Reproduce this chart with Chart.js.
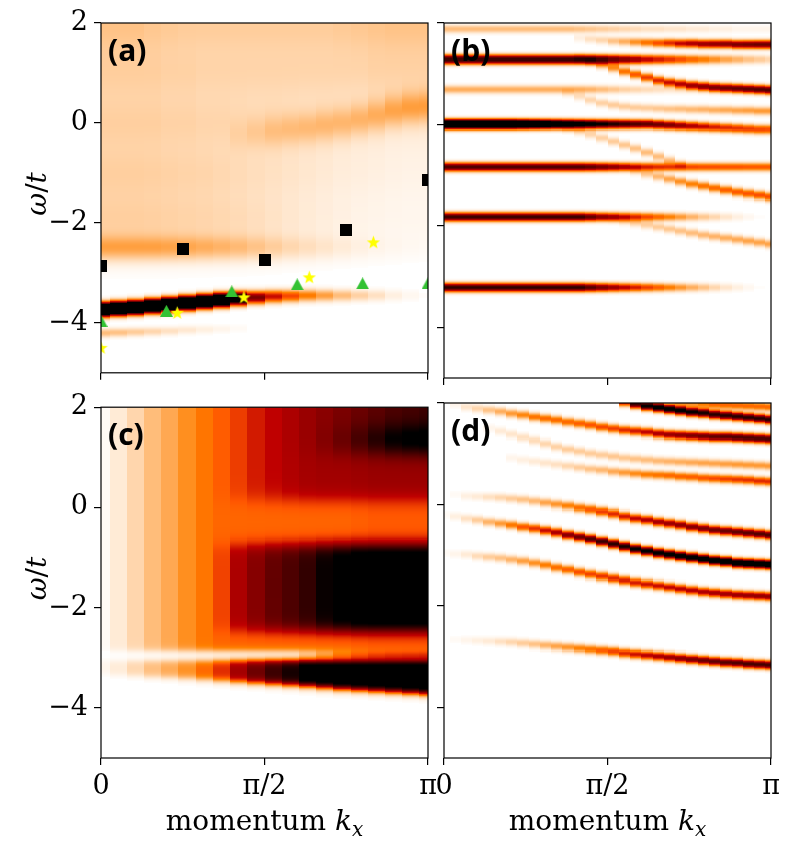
<!DOCTYPE html>
<html>
<head>
<meta charset="utf-8">
<script src="https://cdn.jsdelivr.net/npm/chart.js@4.4.0/dist/chart.umd.min.js"></script>
<style>
  body { margin: 0; background: #fff; width: 790px; height: 851px; position: relative; overflow: hidden; }
  canvas { position: absolute; }
</style>
</head>
<body>
<canvas id="panel-a"></canvas>
<canvas id="panel-b"></canvas>
<canvas id="panel-c"></canvas>
<canvas id="panel-d"></canvas>
<script>
// ---- axes ----
const xTickVals = [0, 0.5, 1];              // momentum in units of pi
const xTickLabels = ['0', 'π/2', 'π'];
const yTickVals = [-4, -2, 0, 2];
const yTickLabels = ['−4', '−2', '0', '2'];

// momentum columns (units of pi)
const kCoarse = [0, 0.0526, 0.1053, 0.1579, 0.2105, 0.2632, 0.3158, 0.3684, 0.4211, 0.4737,
  0.5263, 0.5789, 0.6316, 0.6842, 0.7368, 0.7895, 0.8421, 0.8947, 0.9474, 1];
const kFine = [0, 0.0345, 0.069, 0.1034, 0.1379, 0.1724, 0.2069, 0.2414, 0.2759, 0.3103,
  0.3448, 0.3793, 0.4138, 0.4483, 0.4828, 0.5172, 0.5517, 0.5862, 0.6207, 0.6552,
  0.6897, 0.7241, 0.7586, 0.7931, 0.8276, 0.8621, 0.8966, 0.931, 0.9655, 1];

// ---- panel (a) ----
const aMainW = [-3.73, -3.71, -3.69, -3.66, -3.63, -3.6, -3.57, -3.54, -3.51, -3.49, -3.47, -3.46, -3.45, -3.45, -3.45, -3.45, -3.45, -3.45, -3.45, -3.45];
const aMainAmp = [2.2, 2.2, 2.2, 2.2, 2.2, 2.2, 2.1, 2.0, 1.4, 0.68, 0.48, 0.36, 0.26, 0.19, 0.13, 0.09, 0.06, 0.03, 0.015, 0.005];
const aLowW = [-4.2, -4.19, -4.18, -4.17, -4.16, -4.14, -4.13, -4.12, -4.11, null, null, null, null, null, null, null, null, null, null, null];
const aLowAmp = [0.13, 0.12, 0.1, 0.08, 0.06, 0.045, 0.03, 0.02, 0.01, null, null, null, null, null, null, null, null, null, null, null];
const aEdgeW = -2.5;
const aEdgeAmp = [0.14, 0.14, 0.14, 0.14, 0.135, 0.13, 0.12, 0.11, 0.1, 0.085, 0.07, 0.055, 0.045, 0.035, 0.025, 0.018, 0.012, 0.008, 0.005, 0.003];
const aBgCenters = [2, 1, 0, -1, -2];
const aBg2Amp = [0.11, 0.11, 0.11, 0.1, 0.095, 0.09, 0.09, 0.09, 0.09, 0.09, 0.09, 0.09, 0.09, 0.09, 0.095, 0.1, 0.105, 0.11, 0.11, 0.11];
const aBg1Amp = [0.08, 0.08, 0.08, 0.08, 0.075, 0.075, 0.07, 0.07, 0.07, 0.07, 0.07, 0.07, 0.07, 0.07, 0.07, 0.07, 0.075, 0.075, 0.075, 0.075];
const aBg0Amp = [0.08, 0.08, 0.08, 0.08, 0.075, 0.075, 0.07, 0.07, 0.065, 0.06, 0.06, 0.055, 0.05, 0.05, 0.045, 0.04, 0.04, 0.035, 0.035, 0.035];
const aBgM1Amp = [0.08, 0.08, 0.08, 0.078, 0.075, 0.072, 0.07, 0.065, 0.06, 0.055, 0.05, 0.045, 0.04, 0.035, 0.03, 0.028, 0.025, 0.022, 0.02, 0.02];
const aBgM2Amp = [0.085, 0.085, 0.085, 0.083, 0.08, 0.077, 0.074, 0.07, 0.065, 0.058, 0.05, 0.042, 0.035, 0.03, 0.025, 0.02, 0.018, 0.016, 0.015, 0.015];
const aRightW = [null, null, null, null, null, null, null, null, -0.25, -0.2, -0.17, -0.13, -0.1, -0.05, 0, 0.07, 0.15, 0.24, 0.3, 0.32];
const aRightAmp = [null, null, null, null, null, null, null, null, 0.02, 0.04, 0.06, 0.07, 0.08, 0.085, 0.09, 0.1, 0.11, 0.13, 0.14, 0.14];

// markers in (a)
const squaresK = [0, 0.25, 0.5, 0.75, 1];
const squaresW = [-2.86, -2.52, -2.74, -2.15, -1.15];
const trianglesK = [0, 0.2, 0.4, 0.6, 0.8, 1];
const trianglesW = [-3.96, -3.76, -3.37, -3.23, -3.21, -3.21];
const starsK = [0, 0.233, 0.437, 0.637, 0.833];
const starsW = [-4.49, -3.79, -3.48, -3.08, -2.38];

// ---- panel (b) ----
const bTopW = 1.88;
const bTopAmp = [0.13, 0.13, 0.13, 0.13, 0.13, 0.13, 0.13, 0.13, 0.13, 0.13, 0.13, 0.13, 0.12, 0.11, 0.1, 0.09, 0.08, 0.07, 0.06, 0.06, 0.05, 0.05, 0.04, 0.04, 0.03, 0.03, 0.02, 0.02, 0.02, 0.02];
const bUpperW = 1.28;
const bUpperAmp = [0.85, 0.85, 0.85, 0.85, 0.85, 0.85, 0.85, 0.85, 0.85, 0.85, 0.85, 0.85, 0.85, 0.85, 0.8, 0.72, 0.65, 0.58, 0.5, 0.45, 0.4, 0.35, 0.3, 0.26, 0.22, 0.18, 0.15, 0.12, 0.1, 0.08];
const bFaintW = 0.69;
const bFaintAmp = [0.16, 0.16, 0.16, 0.16, 0.16, 0.16, 0.16, 0.16, 0.16, 0.16, 0.16, 0.16, 0.16, 0.15, 0.13, 0.11, 0.09, 0.08, 0.07, 0.06, 0.05, 0.05, 0.04, 0.04, 0.04, 0.04, 0.04, 0.04, 0.04, 0.04];
const bZeroW = [0, 0, 0, 0, 0, 0, 0, 0, 0, 0, 0, 0, 0, 0, 0, 0, 0, 0, 0, -0.01, -0.02, -0.03, -0.04, -0.05, -0.06, -0.07, -0.08, -0.09, -0.1, -0.1];
const bZeroAmp = [1.8, 1.8, 1.8, 1.8, 1.8, 1.8, 1.8, 1.7, 1.6, 1.5, 1.4, 1.3, 1.2, 1.1, 1.0, 0.92, 0.86, 0.8, 0.76, 0.72, 0.68, 0.62, 0.55, 0.5, 0.45, 0.42, 0.4, 0.38, 0.36, 0.35];
const bMidW = -0.84;
const bMidAmp = [0.8, 0.8, 0.8, 0.8, 0.8, 0.8, 0.8, 0.8, 0.8, 0.8, 0.8, 0.8, 0.8, 0.76, 0.7, 0.64, 0.57, 0.5, 0.45, 0.42, 0.4, 0.38, 0.36, 0.35, 0.35, 0.34, 0.34, 0.33, 0.33, 0.33];
const bLowW = -1.82;
const bLowAmp = [0.85, 0.85, 0.85, 0.85, 0.85, 0.85, 0.85, 0.85, 0.85, 0.85, 0.85, 0.85, 0.85, 0.75, 0.65, 0.57, 0.5, 0.43, 0.36, 0.3, 0.25, 0.2, 0.15, 0.11, 0.08, 0.05, 0.03, 0.015, 0.005, 0];
const bBottomW = -3.21;
const bBottomAmp = [0.88, 0.88, 0.88, 0.88, 0.88, 0.88, 0.88, 0.88, 0.88, 0.88, 0.88, 0.88, 0.88, 0.78, 0.68, 0.6, 0.52, 0.45, 0.38, 0.32, 0.26, 0.21, 0.16, 0.12, 0.08, 0.05, 0.03, 0.015, 0.005, 0];
const bD1W = [null, null, null, null, null, null, null, null, null, null, null, null, 1.7, 1.68, 1.66, 1.64, 1.63, 1.62, 1.61, 1.6, 1.6, 1.59, 1.59, 1.58, 1.58, 1.58, 1.57, 1.57, 1.57, 1.57];
const bD1Amp = [null, null, null, null, null, null, null, null, null, null, null, null, 0.03, 0.06, 0.08, 0.12, 0.16, 0.22, 0.28, 0.35, 0.42, 0.5, 0.55, 0.6, 0.62, 0.65, 0.68, 0.7, 0.72, 0.72];
const bD2W = [null, null, null, null, null, null, null, null, null, null, null, null, 1.3, 1.24, 1.18, 1.12, 1.05, 0.99, 0.93, 0.87, 0.83, 0.8, 0.77, 0.75, 0.73, 0.72, 0.71, 0.7, 0.69, 0.68];
const bD2Amp = [null, null, null, null, null, null, null, null, null, null, null, null, 0.05, 0.1, 0.15, 0.22, 0.28, 0.33, 0.38, 0.43, 0.48, 0.53, 0.58, 0.62, 0.65, 0.68, 0.7, 0.72, 0.74, 0.75];
const bD3W = [null, null, null, null, null, null, null, null, null, null, null, 0.62, 0.55, 0.48, 0.42, 0.38, 0.35, 0.33, 0.32, 0.31, 0.3, 0.3, 0.29, 0.29, 0.28, 0.28, 0.27, 0.27, 0.26, 0.26];
const bD3Amp = [null, null, null, null, null, null, null, null, null, null, null, 0.04, 0.06, 0.08, 0.09, 0.1, 0.1, 0.1, 0.1, 0.11, 0.12, 0.13, 0.14, 0.15, 0.16, 0.17, 0.18, 0.19, 0.2, 0.2];
const bD4aW = [null, null, null, null, null, null, null, null, null, null, null, -0.08, -0.13, -0.19, -0.26, -0.33, -0.4, -0.47, -0.55, -0.63, -0.71, -0.79, null, null, null, null, null, null, null, null];
const bD4aAmp = [null, null, null, null, null, null, null, null, null, null, null, 0.05, 0.07, 0.08, 0.09, 0.1, 0.11, 0.12, 0.13, 0.13, 0.12, 0.1, null, null, null, null, null, null, null, null];
const bD4bW = [null, null, null, null, null, null, null, null, null, null, null, null, null, null, null, null, null, -0.92, -0.98, -1.03, -1.08, -1.13, -1.18, -1.22, -1.26, -1.3, -1.34, -1.37, -1.4, -1.43];
const bD4bAmp = [null, null, null, null, null, null, null, null, null, null, null, null, null, null, null, null, null, 0.06, 0.1, 0.14, 0.18, 0.22, 0.25, 0.28, 0.3, 0.32, 0.33, 0.34, 0.35, 0.35];
const bD5W = [null, null, null, null, null, null, null, null, null, null, null, null, null, null, null, -1.86, -1.9, -1.94, -1.98, -2.02, -2.06, -2.1, -2.14, -2.18, -2.21, -2.24, -2.27, -2.3, -2.33, -2.36];
const bD5Amp = [null, null, null, null, null, null, null, null, null, null, null, null, null, null, null, 0.04, 0.06, 0.08, 0.09, 0.1, 0.11, 0.12, 0.13, 0.14, 0.15, 0.16, 0.17, 0.18, 0.18, 0.18];

// ---- panel (c) ----
const cBaseLevel = [0.01, 0.04, 0.08, 0.13, 0.17, 0.22, 0.27, 0.3, 0.3, 0.3, 0.3, 0.3, 0.3, 0.3, 0.3, 0.31, 0.32, 0.32, 0.32, 0.32];
const cTopExtra = [0, 0, 0, 0, 0, 0, 0, 0.02, 0.08, 0.15, 0.2, 0.25, 0.3, 0.34, 0.38, 0.41, 0.44, 0.48, 0.5, 0.52];
const cMidExtra = [0, 0, 0, 0, 0, 0, 0, 0.02, 0.08, 0.15, 0.2, 0.24, 0.27, 0.28, 0.28, 0.28, 0.28, 0.28, 0.28, 0.28];
const cPeakW = 1.35;
const cPeakAmp = [null, null, null, null, null, null, null, null, null, null, null, null, null, 0.02, 0.05, 0.1, 0.15, 0.2, 0.22, 0.22];
const cLowExtra = [0, 0, 0, 0, 0, 0, 0, 0.07, 0.25, 0.35, 0.44, 0.5, 0.57, 0.68, 0.75, 0.8, 0.8, 0.8, 0.8, 0.8];
const cGapW = -2.95;
const cGapAmp = [null, null, null, null, null, null, null, null, null, null, null, null, 0.05, 0.12, 0.2, 0.26, 0.3, 0.32, 0.33, 0.34];
const cLowerLevel = [0.02, 0.04, 0.08, 0.13, 0.17, 0.22, 0.3, 0.42, 0.58, 0.72, 0.85, 0.95, 1.1, 1.1, 1.1, 1.1, 1.1, 1.1, 1.1, 1.1];
const cLowerBottom = [-3.32, -3.34, -3.35, -3.37, -3.38, -3.4, -3.42, -3.44, -3.46, -3.48, -3.5, -3.52, -3.54, -3.57, -3.6, -3.62, -3.64, -3.66, -3.68, -3.7];

// ---- panel (d) ----
const d1W = [null, null, null, null, null, null, null, null, null, null, null, null, null, null, null, null, 2.02, 1.98, 1.94, 1.91, 1.88, 1.85, 1.82, 1.8, 1.77, 1.75, 1.73, 1.71, 1.69, 1.67];
const d1Amp = [null, null, null, null, null, null, null, null, null, null, null, null, null, null, null, null, 0.5, 0.85, 1.0, 1.1, 1.1, 1.05, 1.0, 0.95, 0.9, 0.9, 0.9, 0.9, 0.9, 0.9];
const d1bW = [null, null, null, null, null, null, null, null, null, null, null, null, null, null, null, null, null, null, null, null, null, 2.0, 1.99, 1.98, 1.97, 1.96, 1.95, 1.94, 1.93, 1.92];
const d1bAmp = [null, null, null, null, null, null, null, null, null, null, null, null, null, null, null, null, null, null, null, null, null, 0.15, 0.2, 0.25, 0.3, 0.3, 0.3, 0.3, 0.3, 0.3];
const d2W = [null, 1.97, 1.92, 1.89, 1.86, 1.83, 1.79, 1.76, 1.72, 1.69, 1.66, 1.62, 1.59, 1.56, 1.52, 1.49, 1.46, 1.44, 1.42, 1.39, 1.37, 1.36, 1.35, 1.34, 1.33, 1.33, 1.32, 1.31, 1.3, 1.29];
const d2Amp = [null, 0.02, 0.05, 0.08, 0.12, 0.16, 0.2, 0.24, 0.28, 0.3, 0.3, 0.3, 0.32, 0.34, 0.36, 0.38, 0.42, 0.46, 0.5, 0.55, 0.6, 0.64, 0.68, 0.72, 0.75, 0.78, 0.8, 0.8, 0.8, 0.8];
const d3W = [null, null, null, null, 1.5, 1.44, 1.38, 1.32, 1.26, 1.2, 1.14, 1.09, 1.05, 1.01, 0.98, 0.95, 0.92, 0.9, 0.88, 0.86, 0.85, 0.84, 0.83, 0.82, 0.81, 0.8, 0.79, 0.78, 0.77, 0.76];
const d3Amp = [null, null, null, null, 0.02, 0.04, 0.05, 0.06, 0.07, 0.08, 0.09, 0.1, 0.1, 0.1, 0.1, 0.11, 0.11, 0.12, 0.13, 0.14, 0.15, 0.16, 0.17, 0.18, 0.18, 0.19, 0.2, 0.2, 0.2, 0.2];
const d4W = [null, null, null, null, null, null, 0.92, 0.88, 0.85, 0.82, 0.79, 0.76, 0.73, 0.7, 0.68, 0.65, 0.63, 0.61, 0.59, 0.58, 0.57, 0.55, 0.54, 0.52, 0.51, 0.5, 0.49, 0.48, 0.46, 0.45];
const d4Amp = [null, null, null, null, null, null, 0.02, 0.03, 0.04, 0.05, 0.06, 0.08, 0.1, 0.12, 0.14, 0.17, 0.2, 0.23, 0.26, 0.28, 0.3, 0.31, 0.32, 0.34, 0.36, 0.38, 0.4, 0.41, 0.42, 0.42];
const d5W = [0.2, 0.19, 0.16, 0.15, 0.14, 0.13, 0.11, 0.09, 0.06, 0.03, 0.0, -0.03, -0.07, -0.1, -0.14, -0.18, -0.23, -0.27, -0.3, -0.34, -0.37, -0.4, -0.44, -0.47, -0.5, -0.52, -0.54, -0.56, -0.58, -0.6];
const d5Amp = [0, 0.01, 0.03, 0.04, 0.06, 0.08, 0.1, 0.12, 0.14, 0.18, 0.21, 0.25, 0.29, 0.33, 0.38, 0.42, 0.46, 0.5, 0.54, 0.57, 0.6, 0.63, 0.66, 0.68, 0.71, 0.73, 0.75, 0.77, 0.79, 0.8];
const d6W = [-0.2, -0.23, -0.27, -0.3, -0.34, -0.37, -0.4, -0.44, -0.47, -0.51, -0.55, -0.6, -0.64, -0.68, -0.73, -0.78, -0.83, -0.88, -0.92, -0.96, -0.99, -1.02, -1.05, -1.08, -1.11, -1.13, -1.16, -1.17, -1.18, -1.19];
const d6Amp = [0.01, 0.03, 0.06, 0.1, 0.15, 0.2, 0.27, 0.34, 0.4, 0.48, 0.56, 0.65, 0.72, 0.8, 0.85, 0.9, 0.95, 1.0, 1.03, 1.06, 1.1, 1.13, 1.16, 1.2, 1.23, 1.26, 1.3, 1.3, 1.3, 1.3];
const d7W = [-0.96, -0.98, -0.99, -1.02, -1.04, -1.06, -1.09, -1.12, -1.16, -1.2, -1.25, -1.29, -1.34, -1.38, -1.42, -1.46, -1.5, -1.54, -1.57, -1.6, -1.63, -1.66, -1.69, -1.72, -1.74, -1.76, -1.78, -1.79, -1.8, -1.81];
const d7Amp = [0.01, 0.02, 0.04, 0.07, 0.1, 0.12, 0.15, 0.19, 0.22, 0.26, 0.29, 0.32, 0.35, 0.37, 0.4, 0.42, 0.44, 0.45, 0.47, 0.48, 0.5, 0.52, 0.53, 0.55, 0.57, 0.58, 0.6, 0.61, 0.62, 0.62];
const d8W = [-2.66, -2.67, -2.68, -2.69, -2.7, -2.71, -2.72, -2.74, -2.76, -2.78, -2.8, -2.82, -2.84, -2.86, -2.88, -2.9, -2.93, -2.95, -2.97, -2.99, -3.01, -3.03, -3.05, -3.07, -3.09, -3.11, -3.12, -3.14, -3.15, -3.16];
const d8Amp = [0, 0.01, 0.02, 0.03, 0.04, 0.06, 0.08, 0.1, 0.12, 0.15, 0.18, 0.21, 0.25, 0.28, 0.32, 0.37, 0.42, 0.47, 0.52, 0.56, 0.6, 0.64, 0.68, 0.72, 0.75, 0.78, 0.8, 0.82, 0.82, 0.82];

// ---- band components ----
const line = (center, amp, width) => ({ kind: 'line', center, amp, width });
const box = (lo, hi, level, soft) => ({ kind: 'box', lo, hi, level, soft });
const NARROW = 0.055;

const partsA = [
  line(aBgCenters[0], aBg2Amp, 0.45), line(aBgCenters[1], aBg1Amp, 0.45), line(aBgCenters[2], aBg0Amp, 0.45),
  line(aBgCenters[3], aBgM1Amp, 0.45), line(aBgCenters[4], aBgM2Amp, 0.45),
  line(aEdgeW, aEdgeAmp, 0.17), line(aRightW, aRightAmp, 0.22),
  line(aMainW, aMainAmp, 0.08), line(aLowW, aLowAmp, 0.06)
];
const partsB = [
  line(bTopW, bTopAmp, NARROW), line(bUpperW, bUpperAmp, NARROW), line(bFaintW, bFaintAmp, NARROW),
  line(bZeroW, bZeroAmp, NARROW), line(bMidW, bMidAmp, NARROW), line(bLowW, bLowAmp, NARROW),
  line(bBottomW, bBottomAmp, NARROW), line(bD1W, bD1Amp, NARROW), line(bD2W, bD2Amp, NARROW),
  line(bD3W, bD3Amp, NARROW), line(bD4aW, bD4aAmp, NARROW), line(bD4bW, bD4bAmp, NARROW), line(bD5W, bD5Amp, NARROW)
];
const partsC = [
  box(-2.85, 2.6, cBaseLevel, 0.04), box(1.05, 2.6, cTopExtra, 0.1), box(0.15, 1.05, cMidExtra, 0.1),
  line(cPeakW, cPeakAmp, 0.22), box(-2.45, -0.75, cLowExtra, 0.08), line(cGapW, cGapAmp, 0.08),
  box(cLowerBottom, -3.06, cLowerLevel, 0.04)
];
const partsD = [
  line(d1W, d1Amp, NARROW), line(d1bW, d1bAmp, NARROW), line(d2W, d2Amp, NARROW), line(d3W, d3Amp, NARROW),
  line(d4W, d4Amp, NARROW), line(d5W, d5Amp, NARROW), line(d6W, d6Amp, NARROW), line(d7W, d7Amp, NARROW),
  line(d8W, d8Amp, NARROW)
];

// gist_heat reversed
function heatColor(v) {
  v = Math.max(0, Math.min(1, v));
  const x = 1 - v;
  const r = Math.min(1, 1.5 * x), g = Math.max(0, 2 * x - 1), b = Math.max(0, Math.min(1, 4 * x - 3));
  return `rgb(${Math.round(r * 255)},${Math.round(g * 255)},${Math.round(b * 255)})`;
}

const pick = (a, i) => Array.isArray(a) ? a[i] : a;

function partValue(p, i, w) {
  if (p.kind === 'line') {
    const mu = pick(p.center, i), a = pick(p.amp, i);
    if (mu == null || a == null) return 0;
    const d = (w - mu) / p.width;
    return a * Math.exp(-0.5 * d * d);
  }
  const lvl = pick(p.level, i);
  if (!lvl) return 0;
  const lo = pick(p.lo, i), hi = pick(p.hi, i);
  return lvl / (1 + Math.exp(-(w - lo) / p.soft)) / (1 + Math.exp(-(hi - w) / p.soft));
}

const ROWS = 350; // 0.02 in omega

function heatmap(ks, parts) {
  return {
    id: 'heatmap',
    beforeDatasetsDraw(chart) {
      const { ctx, chartArea: area, scales: { x, y } } = chart;
      const wTop = y.max, dw = (y.max - y.min) / ROWS;
      ctx.save();
      ctx.beginPath();
      ctx.rect(area.left, area.top, area.right - area.left, area.bottom - area.top);
      ctx.clip();
      for (let i = 0; i < ks.length; i++) {
        const kl = i === 0 ? ks[0] - (ks[1] - ks[0]) / 2 : (ks[i - 1] + ks[i]) / 2;
        const kr = i === ks.length - 1 ? ks[i] + (ks[i] - ks[i - 1]) / 2 : (ks[i] + ks[i + 1]) / 2;
        const x0 = Math.round(x.getPixelForValue(kl)), x1 = Math.round(x.getPixelForValue(kr));
        for (let r = 0; r < ROWS; r++) {
          const w = wTop - (r + 0.5) * dw;
          let v = 0;
          for (const p of parts) v += partValue(p, i, w);
          if (v < 0.004) continue;
          const y0 = Math.round(y.getPixelForValue(wTop - r * dw));
          const y1 = Math.round(y.getPixelForValue(wTop - (r + 1) * dw));
          ctx.fillStyle = heatColor(v);
          ctx.fillRect(x0, y0, x1 - x0, y1 - y0);
        }
      }
      ctx.restore();
    }
  };
}

const SERIF = '"DejaVu Serif", "Liberation Serif", serif';

function decorations(label, xTitle, yTitle) {
  return {
    id: 'decorations',
    afterDraw(chart) {
      const { ctx, chartArea: a } = chart;
      ctx.save();
      ctx.strokeStyle = '#000';
      ctx.lineWidth = 1.2;
      ctx.strokeRect(a.left, a.top, a.right - a.left, a.bottom - a.top);

      ctx.fillStyle = '#000';
      ctx.font = 'bold 30px "Open Sans", sans-serif';
      ctx.textBaseline = 'alphabetic';
      ctx.textAlign = 'left';
      ctx.fillText(label, a.left + 7, a.top + 38);

      if (xTitle) {
        const parts = [
          { t: 'momentum ', f: `28px ${SERIF}`, dy: 0 },
          { t: 'k', f: `italic 28px ${SERIF}`, dy: 0 },
          { t: 'x', f: `italic 20px ${SERIF}`, dy: 6 }
        ];
        let total = 0;
        for (const p of parts) { ctx.font = p.f; total += ctx.measureText(p.t).width; }
        let cx = (a.left + a.right) / 2 - total / 2;
        const base = a.bottom + 72;
        for (const p of parts) {
          ctx.font = p.f;
          ctx.fillText(p.t, cx, base + p.dy);
          cx += ctx.measureText(p.t).width;
        }
      }
      if (yTitle) {
        const parts = [
          { t: 'ω', f: `italic 28px ${SERIF}` },
          { t: '/', f: `28px ${SERIF}` },
          { t: 't', f: `italic 28px ${SERIF}` }
        ];
        let total = 0;
        for (const p of parts) { ctx.font = p.f; total += ctx.measureText(p.t).width; }
        ctx.translate(46, (a.top + a.bottom) / 2 - 4);
        ctx.rotate(-Math.PI / 2);
        let cx = -total / 2;
        for (const p of parts) {
          ctx.font = p.f;
          ctx.fillText(p.t, cx, 0);
          cx += ctx.measureText(p.t).width;
        }
      }
      ctx.restore();
    }
  };
}

function markerCanvas(w, h, draw) {
  const c = document.createElement('canvas');
  c.width = w; c.height = h;
  draw(c.getContext('2d'), w, h);
  return c;
}
const squareMark = markerCanvas(12, 12, (g, w, h) => { g.fillStyle = '#000'; g.fillRect(0, 0, w, h); });
const triangleMark = markerCanvas(13, 12, (g, w, h) => {
  g.fillStyle = '#33c233';
  g.beginPath(); g.moveTo(w / 2, 0); g.lineTo(w, h); g.lineTo(0, h); g.closePath(); g.fill();
});
const starMark = markerCanvas(15, 15, (g, w, h) => {
  g.fillStyle = '#ffff00';
  g.beginPath();
  for (let j = 0; j < 10; j++) {
    const r = j % 2 === 0 ? 7 : 2.9;
    const ang = -Math.PI / 2 + j * Math.PI / 5;
    const px = w / 2 + r * Math.cos(ang), py = h / 2 + 0.8 + r * Math.sin(ang);
    if (j === 0) g.moveTo(px, py); else g.lineTo(px, py);
  }
  g.closePath(); g.fill();
});

const tickFont = { family: SERIF, size: 27 };

function makePanel(id, cfg) {
  const el = document.getElementById(id);
  el.width = cfg.w; el.height = cfg.h;
  el.style.left = cfg.left + 'px';
  el.style.top = cfg.top + 'px';
  return new Chart(el, {
    type: 'scatter',
    data: { datasets: cfg.datasets || [] },
    plugins: [heatmap(cfg.k, cfg.parts), decorations(cfg.label, cfg.showX, cfg.showY)],
    options: {
      responsive: false,
      animation: false,
      devicePixelRatio: 1,
      layout: { padding: cfg.padding },
      plugins: { legend: { display: false }, tooltip: { enabled: false } },
      scales: {
        x: {
          type: 'linear', min: 0, max: 1,
          afterBuildTicks: s => { s.ticks = xTickVals.map(v => ({ value: v })); },
          afterFit: s => { s.height = cfg.xAxisH; },
          ticks: { display: cfg.showX, autoSkip: false, maxRotation: 0, padding: 6, color: '#000', font: tickFont,
            callback: (v, i) => xTickLabels[i] },
          grid: { drawOnChartArea: false, drawTicks: true, tickLength: 7, color: '#000', lineWidth: 1.2 },
          border: { display: false }
        },
        y: {
          type: 'linear', min: -5, max: 2,
          afterBuildTicks: s => { s.ticks = yTickVals.map(v => ({ value: v })); },
          afterFit: s => { s.width = cfg.yAxisW; },
          ticks: { display: cfg.showY, autoSkip: false, padding: 6, color: '#000', font: tickFont,
            callback: (v, i) => yTickLabels[i] },
          grid: { drawOnChartArea: false, drawTicks: true, tickLength: 7, color: '#000', lineWidth: 1.2 },
          border: { display: false }
        }
      }
    }
  });
}

const markerSets = [
  { data: squaresK.map((k, i) => ({ x: k, y: squaresW[i] })), pointStyle: squareMark, pointRadius: 6, clip: 0 },
  { data: trianglesK.map((k, i) => ({ x: k, y: trianglesW[i] })), pointStyle: triangleMark, pointRadius: 6, clip: 0 },
  { data: starsK.map((k, i) => ({ x: k, y: starsW[i] })), pointStyle: starMark, pointRadius: 6, clip: 0 }
];

makePanel('panel-a', { left: 0, top: 0, w: 450, h: 395, padding: { top: 23, right: 22, left: 0, bottom: 0 },
  xAxisH: 17, yAxisW: 101, showX: false, showY: true, label: '(a)', k: kCoarse, parts: partsA, datasets: markerSets });
makePanel('panel-b', { left: 420, top: 0, w: 370, h: 395, padding: { top: 23, right: 19, left: 0, bottom: 0 },
  xAxisH: 17, yAxisW: 24, showX: false, showY: false, label: '(b)', k: kFine, parts: partsB });
makePanel('panel-c', { left: 0, top: 385, w: 450, h: 466, padding: { top: 18, right: 22, left: 0, bottom: 0 },
  xAxisH: 93, yAxisW: 101, showX: true, showY: true, label: '(c)', k: kCoarse, parts: partsC });
makePanel('panel-d', { left: 420, top: 385, w: 370, h: 466, padding: { top: 18, right: 19, left: 0, bottom: 0 },
  xAxisH: 93, yAxisW: 24, showX: true, showY: false, label: '(d)', k: kFine, parts: partsD });
</script>
</body>
</html>
